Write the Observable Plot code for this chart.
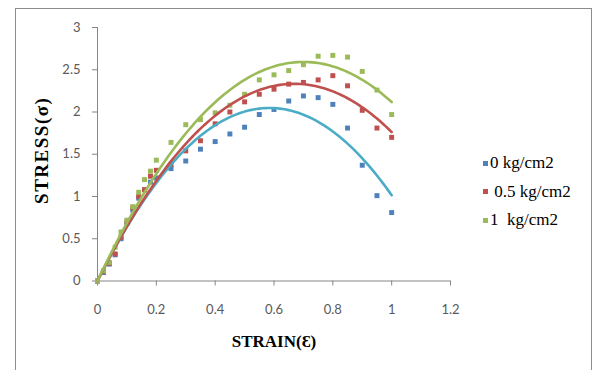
<!DOCTYPE html>
<html><head><meta charset="utf-8">
<script src="https://cdn.jsdelivr.net/npm/d3@7"></script>
<script src="https://cdn.jsdelivr.net/npm/@observablehq/plot@0.6"></script>
<style>
body{margin:0;background:#fff;}
#wrap{position:relative;width:594px;height:370px;overflow:hidden;background:#fff;}
#frame{position:absolute;left:15px;top:8px;width:577px;height:400px;border:1px solid #8c8c8c;box-sizing:border-box;}
#chart{position:absolute;left:0;top:0;}
.leg{position:absolute;left:483px;font-family:"Liberation Serif",serif;font-size:17px;color:#000;white-space:pre;line-height:20px;height:20px;display:flex;align-items:center;}
.leg i{display:inline-block;width:5px;height:5px;margin-right:2px;}
</style></head>
<body>
<div id="wrap"><div id="frame"></div><div id="chart"></div><div id="legend"></div></div>
<script>
const strain = [0,0.02,0.04,0.06,0.08,0.1,0.12,0.14,0.16,0.18,0.2,0.25,0.3,0.35,0.4,0.45,0.5,0.55,0.6,0.65,0.7,0.75,0.8,0.85,0.9,0.95,1.0];
const stress0 = [0,0.1,0.2,0.31,0.5,0.68,0.84,0.98,1.08,1.17,1.22,1.33,1.42,1.56,1.65,1.74,1.82,1.97,2.03,2.13,2.19,2.17,2.09,1.81,1.37,1.01,0.81];
const stress05 = [0,0.11,0.21,0.32,0.52,0.7,0.87,1.0,1.08,1.24,1.31,1.38,1.54,1.66,1.86,2.0,2.12,2.21,2.27,2.33,2.35,2.38,2.43,2.31,2.02,1.81,1.7];
const stress1 = [0,0.12,0.22,0.4,0.58,0.72,0.88,1.05,1.2,1.3,1.43,1.64,1.85,1.91,1.99,2.08,2.21,2.38,2.44,2.49,2.56,2.66,2.67,2.65,2.48,2.26,1.97];
const seriesNames = ["0 kg/cm2", " 0.5 kg/cm2", "1  kg/cm2"];
const markerColors = ["#4F81BD", "#C0504D", "#9BBB59"];
const trendColors = ["#4BACC6", "#C0504D", "#9BBB59"];
const xTicks = [0,0.2,0.4,0.6,0.8,1,1.2];
const yTicks = [0,0.5,1,1.5,2,2.5,3];

// least-squares polynomial trendline (order 2, through the origin), like a spreadsheet trendline
function polyfit(xs, ys, powers) {
  const n = powers.length;
  const A = Array.from({length:n}, () => new Array(n + 1).fill(0));
  xs.forEach((x, k) => {
    for (let i = 0; i < n; i++) {
      for (let j = 0; j < n; j++) A[i][j] += Math.pow(x, powers[i] + powers[j]);
      A[i][n] += ys[k] * Math.pow(x, powers[i]);
    }
  });
  for (let c = 0; c < n; c++) {
    let p = c;
    for (let r = c + 1; r < n; r++) if (Math.abs(A[r][c]) > Math.abs(A[p][c])) p = r;
    [A[c], A[p]] = [A[p], A[c]];
    for (let r = 0; r < n; r++) if (r !== c) {
      const f = A[r][c] / A[c][c];
      for (let j = c; j <= n; j++) A[r][j] -= f * A[c][j];
    }
  }
  const coef = A.map((row, i) => row[n] / row[i]);
  return x => coef.reduce((s, c, i) => s + c * Math.pow(x, powers[i]), 0);
}

const stressSets = [stress0, stress05, stress1];
const points = [];
const trend = [];
const xs = d3.range(0, 1.0001, 0.01);
stressSets.forEach((ys, s) => {
  strain.forEach((x, i) => points.push({x, y: ys[i], s}));
  const f = polyfit(strain, ys, [1, 2]);
  xs.forEach(x => trend.push({x, y: f(x), s}));
});

const chart = Plot.plot({
  width: 594, height: 370,
  marginLeft: 97, marginRight: 144, marginTop: 27, marginBottom: 89.5,
  style: {fontFamily: "Lato", fontSize: "13px", color: "#595959", background: "transparent"},
  x: {domain: [0, 1.2]},
  y: {domain: [0, 3]},
  marks: [
    Plot.axisX({ticks: xTicks, tickSize: 5, tickPadding: 19, tickFormat: d => String(+d.toFixed(1)), label: null, stroke: "#868686"}),
    Plot.axisY({ticks: yTicks, tickSize: 5, tickPadding: 12, tickFormat: d => String(+d.toFixed(1)), label: null, stroke: "#868686"}),
    Plot.ruleY([0], {stroke: "#868686"}),
    Plot.ruleX([0], {stroke: "#868686"}),
    Plot.dot(points, {x: "x", y: "y", symbol: "square", r: 2.8, fill: d => markerColors[d.s], stroke: null}),
    Plot.line(trend, {x: "x", y: "y", z: "s", stroke: d => trendColors[d.s], strokeWidth: 2.6, curve: "linear"}),
    Plot.text(["STRESS(σ)"], {frameAnchor: "left", textAnchor: "middle", dx: -56, dy: -4, rotate: -90, fontFamily: "Liberation Serif", fontWeight: "bold", fontSize: 19, fill: "#000"}),
    Plot.text(["STRAIN(Ɛ)"], {frameAnchor: "bottom", dy: 66, fontFamily: "Liberation Serif", fontWeight: "bold", fontSize: 17, fill: "#000"})
  ]
});
document.getElementById("chart").appendChild(chart);
chart.querySelectorAll("text").forEach(t => {
  if (t.textContent === "STRESS(σ)") t.setAttribute("letter-spacing", "1.5");
});

const legend = document.getElementById("legend");
const rowY = [163, 191.5, 220];
seriesNames.forEach((name, i) => {
  const el = document.createElement("div");
  el.className = "leg";
  el.style.top = (rowY[i] - 10) + "px";
  el.innerHTML = `<i style="background:${markerColors[i]}"></i>`;
  el.appendChild(document.createTextNode(name));
  legend.appendChild(el);
});
</script>
</body></html>
